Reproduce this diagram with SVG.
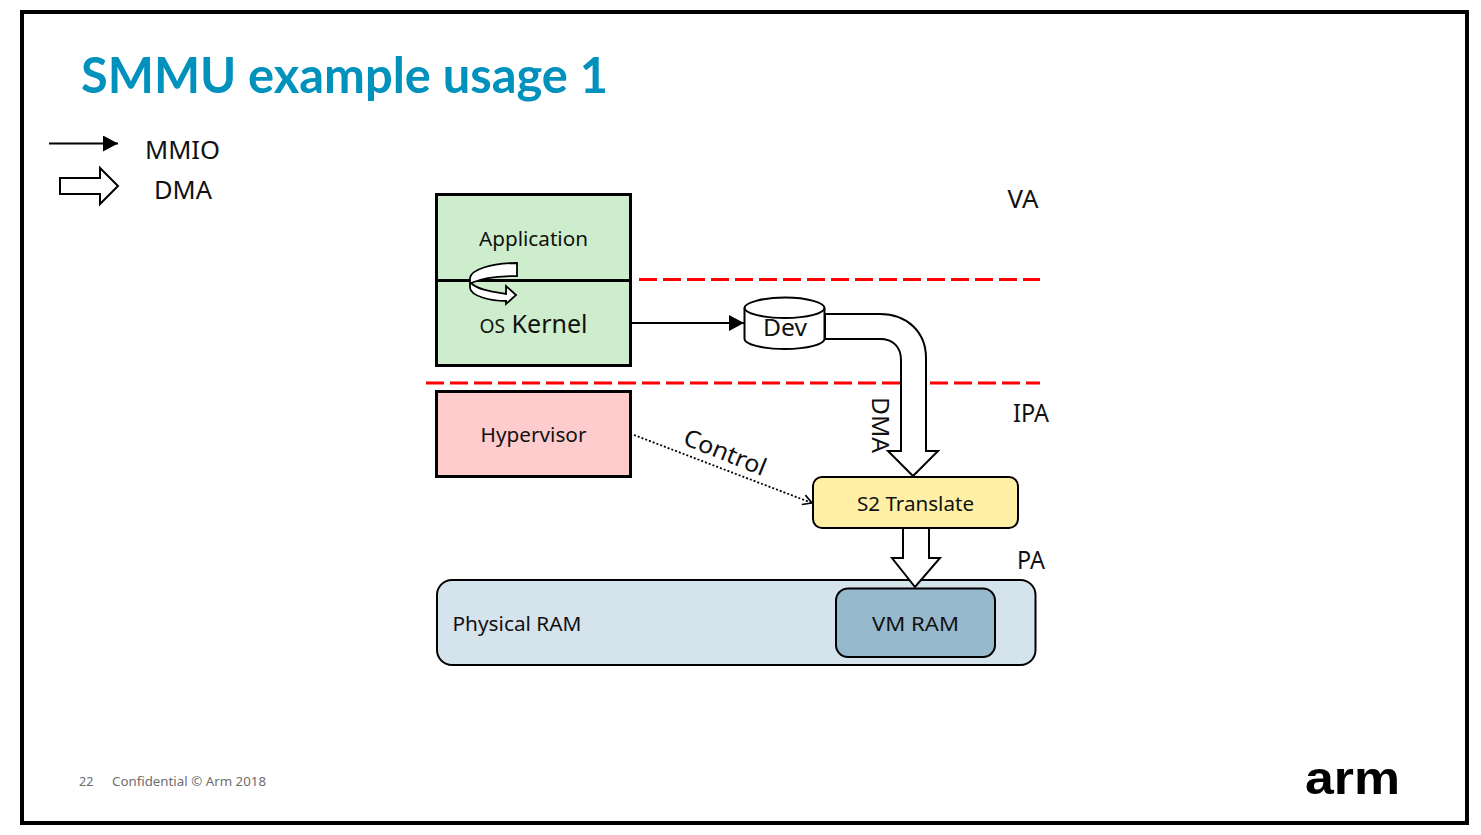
<svg xmlns="http://www.w3.org/2000/svg" width="1481" height="835" viewBox="0 0 1481 835">
<style>
text{font-family:"Noto Sans","Open Sans",sans-serif;fill:#111;text-anchor:middle}
.lbl{font-size:25px}
.sm{font-size:20.5px}
.box{stroke:#000;stroke-width:3}
.rbox{stroke:#000;stroke-width:2}
.arrow{fill:#fff;stroke:#000;stroke-width:2;stroke-linejoin:miter}
.red{stroke:#f00;stroke-width:3;stroke-dasharray:18 6;fill:none}
</style>
<defs>
<marker id="solid" markerUnits="userSpaceOnUse" markerWidth="16" markerHeight="16" refX="15" refY="8" orient="auto"><path d="M0 0L15 8L0 16Z" fill="#000"/></marker>
<marker id="open" markerUnits="userSpaceOnUse" markerWidth="12" markerHeight="12" refX="10" refY="6" orient="auto"><path d="M1 1L10 6L1 11" fill="none" stroke="#000" stroke-width="1.6"/></marker>
</defs>
<rect x="0" y="0" width="1481" height="835" fill="#fff"/>
<rect id="frame" x="22" y="12" width="1445" height="811" fill="none" stroke="#000" stroke-width="4"/>
<text x="81" y="93" style="font-family:Lato,'Noto Sans',sans-serif;font-weight:700;font-size:50px;fill:#0091bd;text-anchor:start" textLength="527" lengthAdjust="spacingAndGlyphs">SMMU example usage 1</text>

<g id="legend">
<path d="M49 143.500H118" stroke="#000" stroke-width="1.800" marker-end="url(#solid)"/>
<path class="arrow" d="M60 178H100V168L118 186L100 204V194H60Z"/>
<text class="lbl" x="182.500" y="159" textLength="75" lengthAdjust="spacingAndGlyphs">MMIO</text>
<text class="lbl" x="183" y="199" textLength="58" lengthAdjust="spacingAndGlyphs">DMA</text>
</g>

<g id="app-kernel">
<rect class="box" x="436.500" y="194.500" width="194" height="171" fill="#ceedcd"/>
<text class="sm" x="533.500" y="246" textLength="109" lengthAdjust="spacingAndGlyphs">Application</text>
<text x="533.500" y="333" style="font-size:26px" textLength="108" lengthAdjust="spacingAndGlyphs"><tspan style="font-size:20px">OS</tspan> Kernel</text>
</g>

<g id="hypervisor">
<rect class="box" x="436.500" y="391.500" width="194" height="85" fill="#ffcccd"/>
<text class="sm" x="533.500" y="442" textLength="106" lengthAdjust="spacingAndGlyphs">Hypervisor</text>
</g>

<g id="dev">
<path d="M744.500 308V339C744.500 344 762 349 785 349S824.500 344 824.500 339V308C824.500 303 808 297.500 785 297.500S744.500 303 744.500 308Z" fill="#fff" stroke="#000" stroke-width="2"/>
<path d="M744.500 308C744.500 313 762 318 785 318S824.500 313 824.500 308" fill="none" stroke="#000" stroke-width="2"/>
<text x="785" y="336" style="font-size:24px" textLength="44" lengthAdjust="spacingAndGlyphs">Dev</text>
</g>

<g id="s2-translate">
<rect class="rbox" x="813" y="477" width="205" height="51" rx="9" fill="#fff0a6"/>
<text class="sm" x="915.500" y="511" textLength="117" lengthAdjust="spacingAndGlyphs">S2 Translate</text>
</g>

<g id="physical-ram">
<rect class="rbox" x="437" y="580" width="598.500" height="85" rx="15" fill="#d5e3ec"/>
<text class="sm" x="517" y="631" textLength="129" lengthAdjust="spacingAndGlyphs">Physical RAM</text>
</g>

<g id="vm-ram">
<rect class="rbox" x="836" y="588.500" width="159" height="68.500" rx="12" fill="#97b9cd"/>
<text class="sm" x="915.500" y="631" textLength="87" lengthAdjust="spacingAndGlyphs">VM RAM</text>
</g>

<g id="boundaries">
<path class="red" d="M639 279.500H1040"/>
<path class="red" d="M426 383H1040"/>
<path d="M436 280.500H631" stroke="#000" stroke-width="3"/>
<text class="lbl" x="1023" y="208" textLength="31" lengthAdjust="spacingAndGlyphs">VA</text>
<text class="lbl" x="1031" y="422" textLength="36" lengthAdjust="spacingAndGlyphs">IPA</text>
<text class="lbl" x="1031" y="569" textLength="28" lengthAdjust="spacingAndGlyphs">PA</text>
</g>

<g id="connectors">
<path d="M632 323H744" stroke="#000" stroke-width="2" marker-end="url(#solid)"/>
<path class="arrow" d="M825 314H880C907 314 926 332 926 358V451H938L913 476L888 451H901V360C901 347 893 339 880 339H825Z"/>
<path class="arrow" d="M903 528H929V558H940L915 587L892 558H903Z"/>
<path class="arrow" style="stroke-width:1.800" d="M517 263V276C498 276 480 279 471 283C478 290 494 292 506 294V286L516 295L506 304V301C490 301 471 296 470 288V278C471 270 490 263 517 263Z"/>
<path d="M634 435L812 503" fill="none" stroke="#000" stroke-width="1.800" stroke-dasharray="2 2" marker-end="url(#open)"/>
<text x="0" y="0" transform="translate(722 460) rotate(22)" style="font-size:24px" textLength="87" lengthAdjust="spacingAndGlyphs">Control</text>
<text x="0" y="0" transform="translate(872 425) rotate(90)" style="font-size:24px" textLength="56" lengthAdjust="spacingAndGlyphs">DMA</text>
</g>

<g id="footer">
<text x="79" y="786" style="font-size:12.500px;fill:#6e6e6e;text-anchor:start">22</text>
<text x="112" y="786" style="font-size:12.500px;fill:#6e6e6e;text-anchor:start" textLength="154" lengthAdjust="spacingAndGlyphs">Confidential © Arm 2018</text>
<text x="1352.500" y="794" style="font-family:'Liberation Sans',sans-serif;font-weight:700;font-size:46px;fill:#000" textLength="95" lengthAdjust="spacingAndGlyphs">arm</text>
</g>
</svg>
